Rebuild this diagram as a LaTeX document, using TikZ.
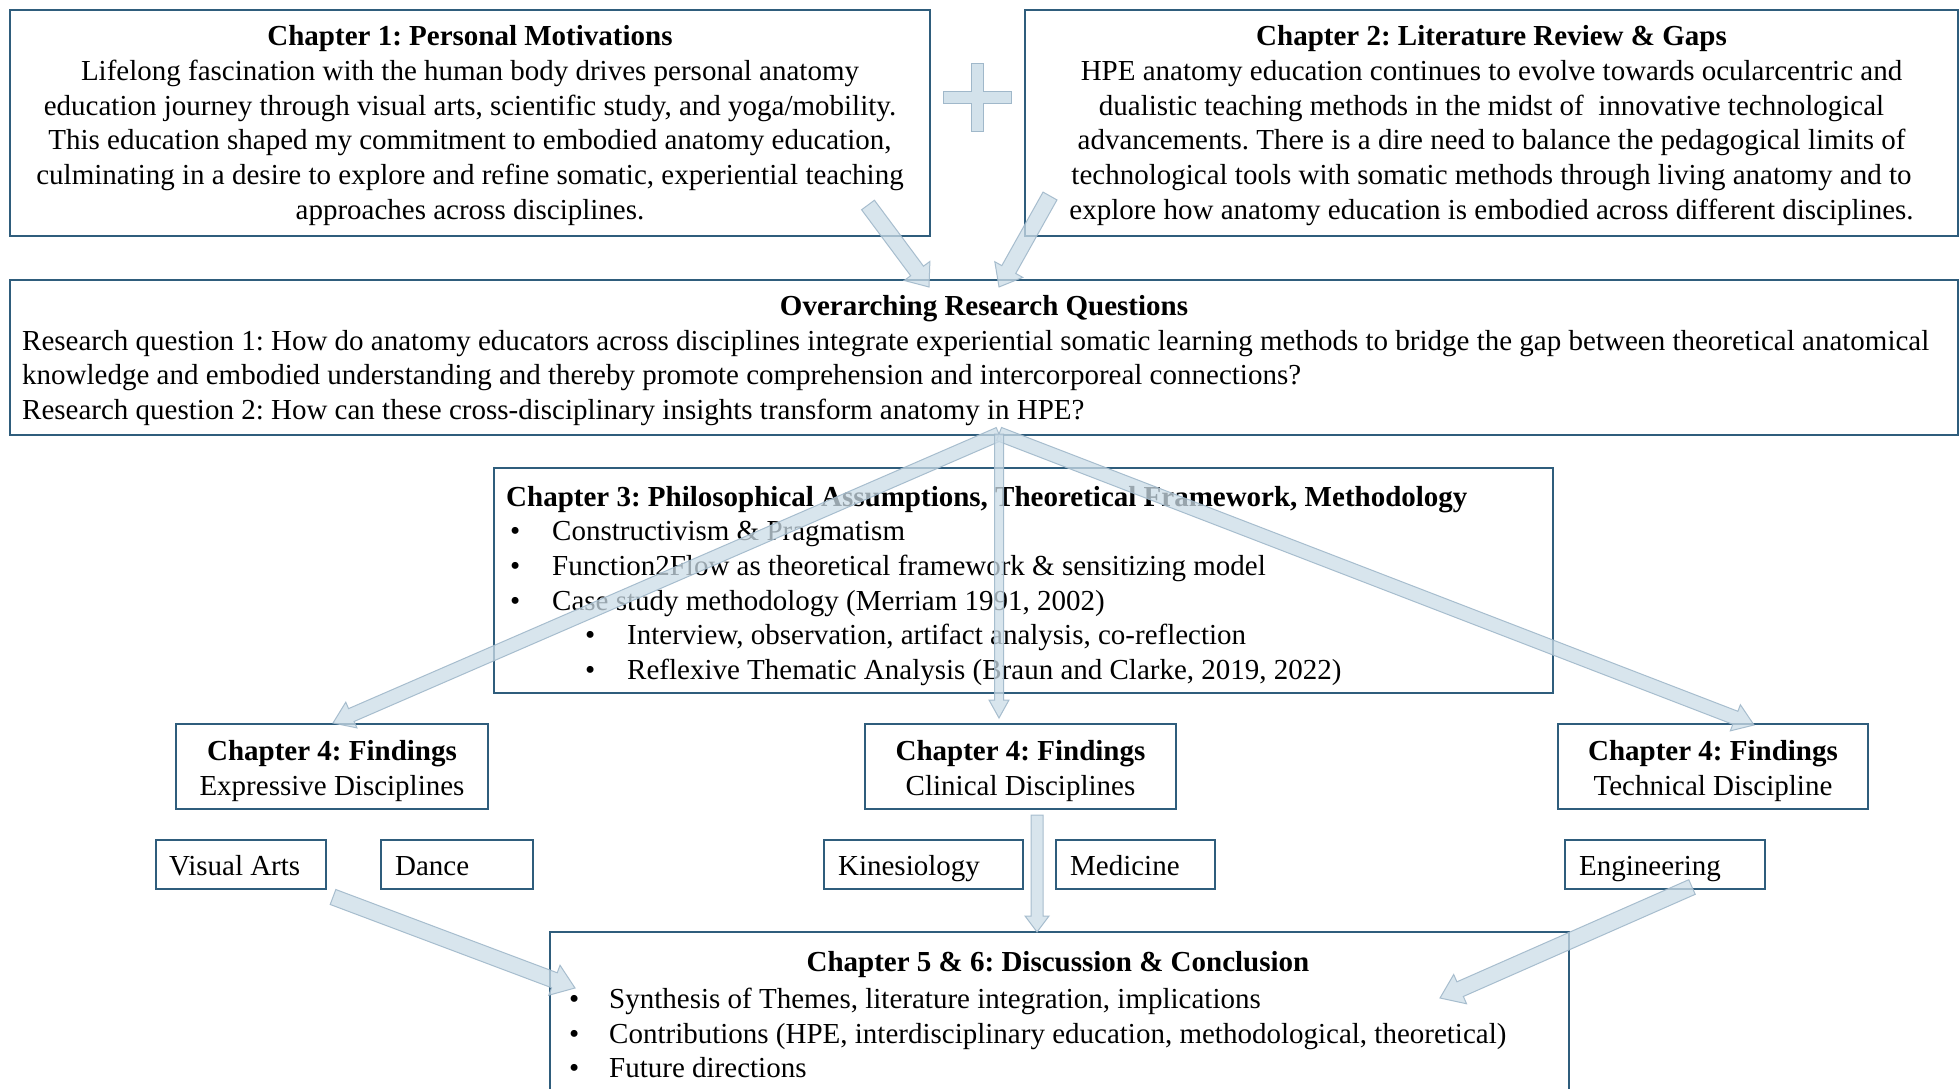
\documentclass[tikz,border=0pt]{standalone}
\usepackage{fontspec}
\setmainfont{Liberation Serif}
\usetikzlibrary{calc}
\frenchspacing
\definecolor{boxc}{HTML}{2F5D7C}
\definecolor{arrfill}{HTML}{CCDDE8}
\definecolor{arredge}{HTML}{A0B8CA}
\tikzset{
  box/.style={draw=boxc, line width=2.2pt, rectangle, inner sep=0pt},
  txt/.style={font=\fontsize{29}{34.7}\selectfont\frenchspacing, inner sep=0pt},
  sl/.style={text height=20pt, text depth=6pt},
  barrow/.style={fill=arrfill, draw=arredge, line width=1pt, fill opacity=0.75, draw opacity=0.9}
}
\newcommand{\blkarrow}[5]{%
  \coordinate (bah) at ($(#2)!#5!(#1)$);
  \draw[barrow] ($(#1)!#3!90:(#2)$) -- ($(bah)!#3!90:(#2)$) -- ($(bah)!#4!90:(#2)$) -- (#2)
     -- ($(bah)!#4!-90:(#2)$) -- ($(bah)!#3!-90:(#2)$) -- ($(#1)!#3!-90:(#2)$) -- cycle;}
\begin{document}
\begin{tikzpicture}[x=1pt,y=-1pt]
\useasboundingbox (0,0) rectangle (1960,1089);
\clip (0,0) rectangle (1960,1089);
\fill[white] (0,0) rectangle (1960,1089);

% Chapter 1
\node[box, minimum width=920pt, minimum height=226pt] (ch1) at (470,123) {};
\node[txt, align=center] (ch1t) at (470,125.5)
 {\textbf{Chapter 1: Personal Motivations}\\
  Lifelong fascination with the human body drives personal anatomy\\
  education journey through visual arts, scientific study, and yoga/mobility.\\
  This education shaped my commitment to embodied anatomy education,\\
  culminating in a desire to explore and refine somatic, experiential teaching\\
  approaches across disciplines.};

% Chapter 2
\node[box, minimum width=933pt, minimum height=226pt] (ch2) at (1491.5,123) {};
\node[txt, align=center] (ch2t) at (1491.5,125.5)
 {\textbf{Chapter 2: Literature Review \& Gaps}\\
  HPE anatomy education continues to evolve towards ocularcentric and\\
  dualistic teaching methods in the midst of~ innovative technological\\
  advancements. There is a dire need to balance the pedagogical limits of\\
  technological tools with somatic methods through living anatomy and to\\
  explore how anatomy education is embodied across different disciplines.};

% Research questions
\node[box, minimum width=1948pt, minimum height=155pt] (rq) at (984,357.5) {};
\node[txt, sl] (rqt) at (984,308) {\textbf{Overarching Research Questions}};
\node[txt, align=left, anchor=west] (rqb) at (22,378)
 {Research question 1: How do anatomy educators across disciplines integrate experiential somatic learning methods to bridge the gap between theoretical anatomical\\
  knowledge and embodied understanding and thereby promote comprehension and intercorporeal connections?\\
  Research question 2: How can these cross-disciplinary insights transform anatomy in HPE?};

% Chapter 3
\node[box, minimum width=1059pt, minimum height=225pt] (ch3) at (1023.5,580.5) {};
\node[txt, align=left, anchor=west] (ch3t) at (506,586)
 {\textbf{Chapter 3: Philosophical Assumptions, Theoretical Framework, Methodology}\\
  \hspace*{4pt}\makebox[42pt][l]{•}Constructivism \& Pragmatism\\
  \hspace*{4pt}\makebox[42pt][l]{•}Function2Flow as theoretical framework \& sensitizing model\\
  \hspace*{4pt}\makebox[42pt][l]{•}Case study methodology (Merriam 1991, 2002)\\
  \hspace*{79pt}\makebox[42pt][l]{•}Interview, observation, artifact analysis, co-reflection\\
  \hspace*{79pt}\makebox[42pt][l]{•}Reflexive Thematic Analysis (Braun and Clarke, 2019, 2022)};

% Chapter 4 findings
\tikzset{ftxt/.style={txt, align=center, font=\fontsize{29}{35.5}\selectfont\frenchspacing}}
\node[box, minimum width=312pt, minimum height=85pt] (fexp) at (332,766.5) {};
\node[ftxt] (fexpt) at (332,771) {\textbf{Chapter 4: Findings}\\Expressive Disciplines};
\node[box, minimum width=311pt, minimum height=85pt] (fcli) at (1020.5,766.5) {};
\node[ftxt] (fclit) at (1020.5,771) {\textbf{Chapter 4: Findings}\\Clinical Disciplines};
\node[box, minimum width=310pt, minimum height=85pt] (ftec) at (1713,766.5) {};
\node[ftxt] (ftect) at (1713,771) {\textbf{Chapter 4: Findings}\\Technical Discipline};

% disciplines
\node[box, minimum width=170pt, minimum height=49pt] (va) at (241,864.5) {};
\node[txt, sl, anchor=west] (vat) at ($(va.west)+(14,3.5)$) {Visual Arts};
\node[box, minimum width=152pt, minimum height=49pt] (da) at (457,864.5) {};
\node[txt, sl, anchor=west] (dat) at ($(da.west)+(15,3.5)$) {Dance};
\node[box, minimum width=199pt, minimum height=49pt] (ki) at (923.5,864.5) {};
\node[txt, sl, anchor=west] (kit) at ($(ki.west)+(15,3.5)$) {Kinesiology};
\node[box, minimum width=159pt, minimum height=49pt] (me) at (1135.5,864.5) {};
\node[txt, sl, anchor=west] (met) at ($(me.west)+(15,3.5)$) {Medicine};
\node[box, minimum width=200pt, minimum height=49pt] (en) at (1665,864.5) {};
\node[txt, sl, anchor=west] (ent) at ($(en.west)+(15,3.5)$) {Engineering};

% Discussion
\node[box, minimum width=1019pt, minimum height=198pt] (dis) at (1059.5,1031) {};
\node[txt, sl] (dist) at (1058,964) {\textbf{Chapter 5 \& 6: Discussion \& Conclusion}};
\node[txt, align=left, anchor=west] (disb) at (569,1033)
 {\makebox[40pt][l]{•}Synthesis of Themes, literature integration, implications\\
  \makebox[40pt][l]{•}Contributions (HPE, interdisciplinary education, methodological, theoretical)\\
  \makebox[40pt][l]{•}Future directions};

% plus sign
\draw[fill=arrfill, draw=arredge, line width=1pt, fill opacity=0.85]
 (971,64) -- (983,64) -- (983,92) -- (1011,92) -- (1011,104) -- (983,104) -- (983,132)
 -- (971,132) -- (971,104) -- (943,104) -- (943,92) -- (971,92) -- cycle;

% arrow end points
\coordinate (a1s) at (868,205);  \coordinate (a1e) at (929,287);
\coordinate (a2s) at (1050,196); \coordinate (a2e) at (999,287);
\coordinate (rqo) at (999,434);
\coordinate (a3e) at (333,723);
\coordinate (a4e) at (999,718);
\coordinate (a5e) at (1754,725);
\coordinate (a6s) at (1037,815); \coordinate (a6e) at (1037,932);
\coordinate (a7s) at (333,897);  \coordinate (a7e) at (575,988);
\coordinate (a8s) at (1692,887); \coordinate (a8e) at (1440,998);

\blkarrow{a1s}{a1e}{8pt}{16pt}{20pt}
\blkarrow{a2s}{a2e}{8pt}{16pt}{20pt}
\blkarrow{rqo}{a3e}{7pt}{14pt}{20pt}
\blkarrow{rqo}{a5e}{7pt}{14pt}{20pt}
\blkarrow{rqo}{a4e}{4.5pt}{10pt}{18pt}
\blkarrow{a6s}{a6e}{6pt}{12pt}{16pt}
\blkarrow{a7s}{a7e}{8pt}{16pt}{22pt}
\blkarrow{a8s}{a8e}{8pt}{16pt}{22pt}
\end{tikzpicture}
\end{document}
